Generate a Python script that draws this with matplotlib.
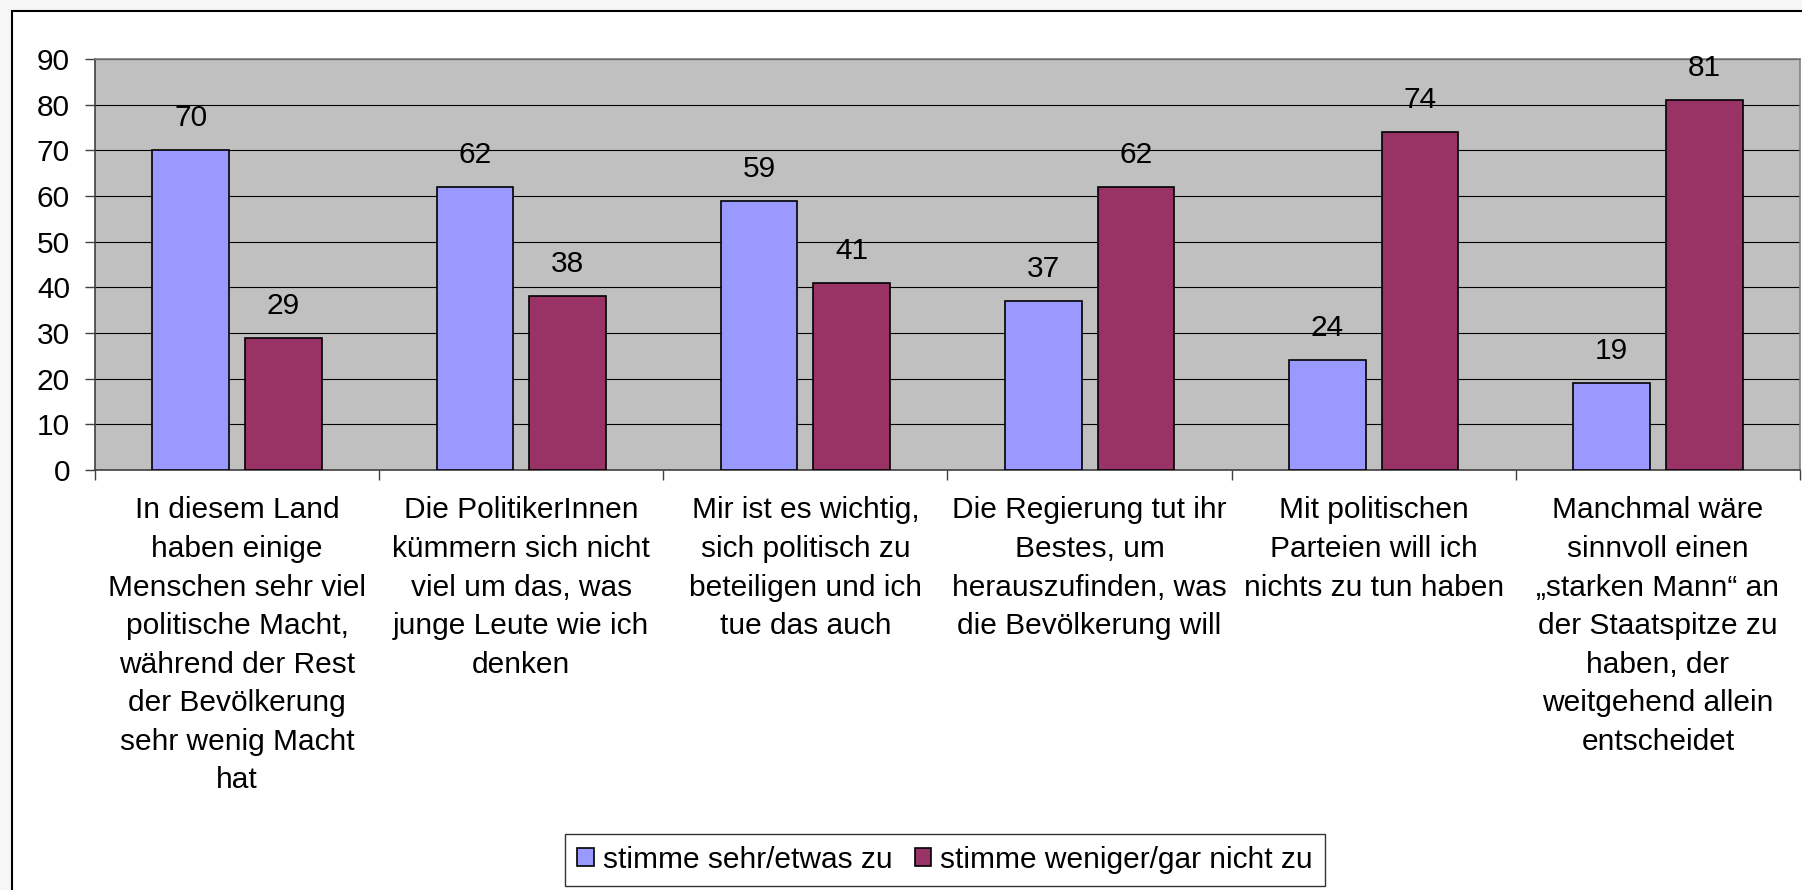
import numpy as np
import matplotlib
matplotlib.use('Agg')
import matplotlib.pyplot as plt
from matplotlib.patches import Rectangle

plt.rcParams['font.family'] = ['Liberation Sans', 'DejaVu Sans']

categories = [
    'In diesem Land\nhaben einige\nMenschen sehr viel\npolitische Macht,\nwährend der Rest\nder Bevölkerung\nsehr wenig Macht\nhat',
    'Die PolitikerInnen\nkümmern sich nicht\nviel um das, was\njunge Leute wie ich\ndenken',
    'Mir ist es wichtig,\nsich politisch zu\nbeteiligen und ich\ntue das auch',
    'Die Regierung tut ihr\nBestes, um\nherauszufinden, was\ndie Bevölkerung will',
    'Mit politischen\nParteien will ich\nnichts zu tun haben',
    'Manchmal wäre\nsinnvoll einen\n„starken Mann“ an\nder Staatspitze zu\nhaben, der\nweitgehend allein\nentscheidet',
]
zustimmung = [70, 62, 59, 37, 24, 19]
ablehnung = [29, 38, 41, 62, 74, 81]
series_names = ['stimme sehr/etwas zu', 'stimme weniger/gar nicht zu']
colors = ['#9999ff', '#993366']

W, H = 1802, 890
fig = plt.figure(figsize=(W / 100, H / 100), dpi=100)
fig.patch.set_facecolor('#f6f6f6')
# chart frame (continues past right/bottom edges)
fig.patches.append(Rectangle((11.5 / W, -0.1), 1.2, 1.1 - 11.5 / H,
                             transform=fig.transFigure, facecolor='white',
                             edgecolor='black', linewidth=1.5, zorder=-10))

ax = fig.add_axes([95 / W, (H - 470) / H, 1705 / W, 411 / H])
ax.set_facecolor('#c0c0c0')

x = np.arange(len(categories))
w = 0.27
b1 = ax.bar(x - 0.163, zustimmung, w, color=colors[0], edgecolor='black',
            linewidth=1.2, label=series_names[0], zorder=3)
b2 = ax.bar(x + 0.163, ablehnung, w, color=colors[1], edgecolor='black',
            linewidth=1.2, label=series_names[1], zorder=3)
ax.bar_label(b1, padding=13, fontsize=21.5)
ax.bar_label(b2, padding=13, fontsize=21.5)

ax.set_xlim(-0.5, len(categories) - 0.5)
ax.set_ylim(0, 90)
ax.set_yticks(range(0, 91, 10))
ax.yaxis.grid(True, color='black', linewidth=0.8, zorder=1)
ax.set_axisbelow(True)

ax.set_xticks(x)
ax.set_xticklabels(categories, fontsize=21.5, linespacing=1.48)
ax.set_xticks(np.arange(-0.5, len(categories), 1), minor=True)
ax.tick_params(axis='x', which='major', length=0, pad=19)
ax.tick_params(axis='x', which='minor', length=7, width=1, color='#404040')
ax.tick_params(axis='y', length=7, width=1, color='#404040', pad=11, labelsize=21.5)

ax.spines['left'].set_color('#404040')
ax.spines['bottom'].set_color('#404040')
ax.spines['top'].set_color('#808080')
ax.spines['right'].set_color('#808080')
for s in ax.spines.values():
    s.set_linewidth(1.2)

leg = fig.legend(loc='center', bbox_to_anchor=(945 / W, 1 - 860 / H), ncol=2,
                 fontsize=21.5, frameon=True, fancybox=False, edgecolor='black',
                 handlelength=0.55, handleheight=0.55, handletextpad=0.3,
                 columnspacing=0.75, borderpad=0.4, borderaxespad=0)
leg.get_frame().set_linewidth(1)

fig.savefig('out.png', dpi=100, facecolor=fig.get_facecolor())
